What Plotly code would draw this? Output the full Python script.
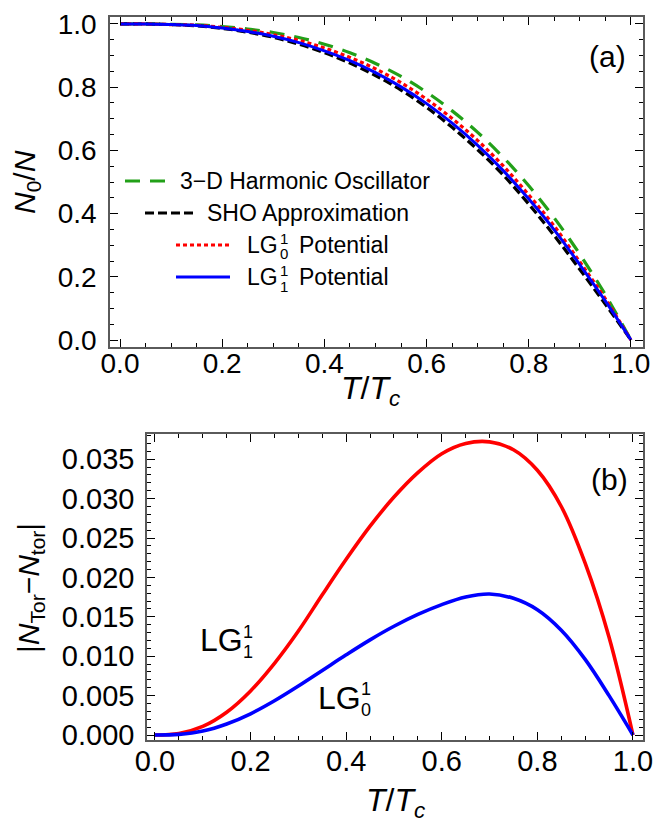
import plotly.graph_objects as go

# ---------------- data ----------------
t = [0.0, 0.05, 0.1, 0.15, 0.2, 0.25, 0.3, 0.35, 0.4, 0.45, 0.5,
     0.55, 0.6, 0.65, 0.7, 0.75, 0.8, 0.85, 0.9, 0.95, 1.0]

ho_3d = [1.0, 1.0, 0.999, 0.997, 0.992, 0.984, 0.973, 0.957, 0.936, 0.909, 0.875,
         0.834, 0.784, 0.725, 0.657, 0.578, 0.488, 0.386, 0.271, 0.143, 0.0]
sho_approx = [1.0, 1.0, 0.998, 0.994, 0.986, 0.974, 0.958, 0.936, 0.909, 0.876, 0.837,
              0.791, 0.736, 0.673, 0.602, 0.522, 0.430, 0.330, 0.223, 0.113, 0.0]
lg01_pot = [1.0, 1.0, 0.998, 0.996, 0.989, 0.980, 0.966, 0.948, 0.924, 0.894, 0.858,
            0.814, 0.762, 0.701, 0.631, 0.551, 0.459, 0.360, 0.247, 0.130, 0.0]
lg11_pot = [1.0, 1.0, 0.998, 0.995, 0.987, 0.976, 0.961, 0.941, 0.915, 0.884, 0.846,
            0.801, 0.748, 0.686, 0.616, 0.536, 0.446, 0.348, 0.238, 0.123, 0.0]

diff_lg11 = [0.0, 0.0002, 0.0011, 0.0029, 0.0056, 0.0091, 0.0132, 0.0178, 0.0223,
             0.0265, 0.0302, 0.0333, 0.0357, 0.0370, 0.0372, 0.0362, 0.0336,
             0.0290, 0.0218, 0.0124, 0.0]
diff_lg01 = [0.0, 0.00008, 0.0005, 0.0014, 0.0027, 0.00435, 0.00622, 0.0082, 0.01018,
             0.01208, 0.0138, 0.0153, 0.01655, 0.01752, 0.0179, 0.01735, 0.0159,
             0.0133, 0.0096, 0.005, 0.0]

legend_names = ["3\u2212D Harmonic Oscillator", "SHO Approximation", "Potential", "Potential"]
ticks_a_x = [0.0, 0.2, 0.4, 0.6, 0.8, 1.0]
ticks_a_y = [0.0, 0.2, 0.4, 0.6, 0.8, 1.0]
ticks_b_y = [0.0, 0.005, 0.01, 0.015, 0.02, 0.025, 0.03, 0.035]

# ---------------- styling ----------------
W, H = 668, 823
FONT = "Liberation Sans, Arial, Helvetica, sans-serif"
GREEN, BLACK, RED, BLUE = "#22a018", "#000000", "#ff0000", "#0000ff"


def px(x):
    return x / W


def py(y):
    return 1 - y / H


fig = go.Figure()

# panel (a)
fig.add_trace(go.Scatter(x=t, y=ho_3d, xaxis="x", yaxis="y", mode="lines", line_shape="spline",
                         line=dict(color=GREEN, width=3.2, dash="15px,10px"), showlegend=False))
fig.add_trace(go.Scatter(x=t, y=sho_approx, xaxis="x", yaxis="y", mode="lines", line_shape="spline",
                         line=dict(color=BLACK, width=3.2, dash="9px,4px"), showlegend=False))
fig.add_trace(go.Scatter(x=t, y=lg01_pot, xaxis="x", yaxis="y", mode="lines", line_shape="spline",
                         line=dict(color=RED, width=3.2, dash="4px,3px"), showlegend=False))
fig.add_trace(go.Scatter(x=t, y=lg11_pot, xaxis="x", yaxis="y", mode="lines", line_shape="spline",
                         line=dict(color=BLUE, width=3.0), showlegend=False))

# panel (b)
fig.add_trace(go.Scatter(x=t, y=diff_lg11, xaxis="x2", yaxis="y2", mode="lines", line_shape="spline",
                         line=dict(color=RED, width=3.6), showlegend=False))
fig.add_trace(go.Scatter(x=t, y=diff_lg01, xaxis="x2", yaxis="y2", mode="lines", line_shape="spline",
                         line=dict(color=BLUE, width=3.6), showlegend=False))

axis_common = dict(showline=True, linecolor="#5a5a5a", linewidth=1.5, mirror="allticks",
                   ticks="inside", tickcolor="black", tickwidth=1.3, showgrid=False,
                   zeroline=False, automargin=False)

minor_x = dict(dtick=0.05, ticks="inside", ticklen=4, tickcolor="black", tickwidth=1.2)

fig.update_layout(
    width=W, height=H, margin=dict(l=0, r=0, t=0, b=0, pad=0), autosize=False,
    paper_bgcolor="white", plot_bgcolor="white", showlegend=False,
    xaxis=dict(domain=[px(110), px(643)], range=[-0.0196, 1.0235], anchor="y",
               tickvals=ticks_a_x, tickformat=".1f", ticklen=8, ticklabelstandoff=-9,
               tickfont=dict(family=FONT, size=28, color="black"),
               minor=minor_x, **axis_common),
    yaxis=dict(domain=[py(347), py(17)], range=[-0.022, 1.022], anchor="x",
               tickvals=ticks_a_y, tickformat=".1f", ticklen=8, ticklabelstandoff=6,
               tickfont=dict(family=FONT, size=28, color="black"),
               minor=minor_x, **axis_common),
    xaxis2=dict(domain=[px(147), px(643)], range=[-0.0167, 1.021], anchor="y2",
                tickvals=ticks_a_x, tickformat=".1f", ticklen=8, ticklabelstandoff=-6,
                tickfont=dict(family=FONT, size=29, color="black"),
                minor=minor_x, **axis_common),
    yaxis2=dict(domain=[py(740), py(434)], range=[-0.00063, 0.0382], anchor="x2",
                tickvals=ticks_b_y, tickformat=".3f", ticklen=8, ticklabelstandoff=5,
                tickfont=dict(family=FONT, size=29, color="black"),
                minor=dict(dtick=0.001, ticks="inside", ticklen=4, tickcolor="black", tickwidth=1.2),
                **axis_common),
)

ann = []


def text(x, y, s, size, xanchor="center", yanchor="middle", angle=0):
    ann.append(dict(x=px(x), y=py(y), xref="paper", yref="paper", text=s, showarrow=False,
                    xanchor=xanchor, yanchor=yanchor, textangle=angle,
                    font=dict(family=FONT, size=size, color="black")))


# axis titles
text(26, 182, "<i>N</i><sub>0</sub>/<i>N</i>", 30, angle=-90)
text(370, 390, "<i>T</i>/<i>T</i><sub><i>c</i></sub>", 32)
text(30, 588, "|<i>N</i><sub>Tor</sub>\u2212<i>N</i><sub>tor</sub>|", 30, angle=-90)
text(395, 802, "<i>T</i>/<i>T</i><sub><i>c</i></sub>", 32)

# panel labels
text(607, 57, "(a)", 30)
text(609, 480, "(b)", 30)

# legend of panel (a)
shapes = []
leg_style = [(GREEN, "15px,10px", 125, 170, 181, 178),
             (BLACK, "9px,4px", 145, 197, 213, 205),
             (RED, "4px,3px", 176, 230, 245, 245),
             (BLUE, "solid", 176, 230, 277, 245)]
for i, (col, dash, x0, x1, yy, tx) in enumerate(leg_style):
    shapes.append(dict(type="line", xref="paper", yref="paper", x0=px(x0), x1=px(x1),
                       y0=py(yy), y1=py(yy), line=dict(color=col, width=3.2, dash=dash)))
    if i < 2:
        text(tx, yy, legend_names[i], 23, xanchor="left")
    else:
        sub = "0" if i == 2 else "1"
        text(tx, yy, "LG", 23, xanchor="left")
        text(tx + 39, yy - 7, "1", 15)
        text(tx + 39, yy + 9, sub, 15)
        text(tx + 52, yy, legend_names[i], 23, xanchor="left")

# curve labels in panel (b)
text(198, 640, "LG", 32, xanchor="left")
text(248, 632, "1", 18)
text(248, 652, "1", 18)
text(316, 698, "LG", 32, xanchor="left")
text(366, 689, "1", 18)
text(366, 710, "0", 18)

fig.update_layout(annotations=ann, shapes=shapes)
fig.write_html("out.html", config={"displayModeBar": False},
               post_script="document.body.style.margin='0px';document.body.style.overflow='hidden';")
